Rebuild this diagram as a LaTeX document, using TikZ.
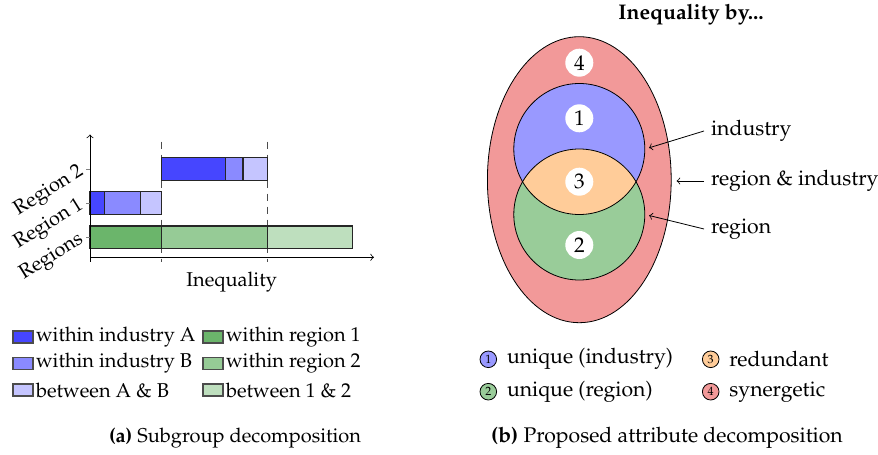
\documentclass[tikz,border=0pt]{standalone}
\usepackage[T1]{fontenc}
\usepackage{mathpazo}
\usetikzlibrary{shapes}
\usetikzlibrary{arrows}
\usetikzlibrary{calc,positioning}

\definecolor{indA}{HTML}{4646FF}
\definecolor{indB}{HTML}{8A8AFF}
\definecolor{betAB}{HTML}{C5C5FF}
\definecolor{regOne}{HTML}{6BB56B}
\definecolor{regTwo}{HTML}{96CB96}
\definecolor{betOneTwo}{HTML}{BEDFBE}
\definecolor{uniqInd}{HTML}{9999FF}
\definecolor{uniqReg}{HTML}{99CC99}
\definecolor{redund}{HTML}{FFCC99}
\definecolor{synerg}{HTML}{F29999}

\begin{document}
\begin{tikzpicture}[x=0.5pt, y=-0.5pt]
	\tikzstyle{bar}=[draw=black!85, line width=0.6pt]
	\tikzstyle{legbox}=[draw=black!70, line width=0.6pt, minimum width=10pt, minimum height=6pt, inner sep=0pt]
	\tikzstyle{legtext}=[inner xsep=1pt]
	\tikzstyle{venn}=[circle, minimum size=65.5pt, inner sep=0pt]
	\tikzstyle{num}=[circle, fill=white, minimum size=14pt, inner sep=0pt]
	\tikzstyle{legnum}=[circle, draw, minimum size=8.3pt, inner sep=0pt, font=\fontsize{6pt}{7pt}\selectfont]
	\tikzstyle{ylab}=[anchor=east, rotate=32, inner sep=1pt]
	\tikzstyle{guide}=[black!70, dash pattern=on 3.5pt off 3pt]

	\useasboundingbox (0,0) rectangle (878,455);

	% (a) subgroup decomposition
	\begin{scope}[font=\fontsize{10pt}{12pt}\selectfont]
	\coordinate (origin) at (90,257.3);
	\coordinate (ytop) at (90,134.5);
	\coordinate (xend) at (374,257.3);
	\draw[guide] (161.3,141.7) -- (161.3,261.7);
	\draw[guide] (267.7,141.7) -- (267.7,261.7);

	\draw[bar, fill=regOne] (90,226) rectangle (161.3,248.3);
	\draw[bar, fill=regTwo] (161.3,226) rectangle (267.7,248.3);
	\draw[bar, fill=betOneTwo] (267.7,226) rectangle (352.7,248.3);
	\draw[bar, fill=indA] (90,191.3) rectangle (104.7,214.3);
	\draw[bar, fill=indB] (104.7,191.3) rectangle (140.3,214.3);
	\draw[bar, fill=betAB] (140.3,191.3) rectangle (161.3,214.3);
	\draw[bar, fill=indA] (161.3,157.3) rectangle (225.7,180.3);
	\draw[bar, fill=indB] (225.7,157.3) rectangle (243,180.3);
	\draw[bar, fill=betAB] (243,157.3) rectangle (267.7,180.3);

	\draw[->] (90,261.7) -- (ytop);
	\draw[->] (origin) -- (xend);
	\foreach \ty/\tl in {169.3/Region 2, 203/Region 1, 237.3/Regions}
		\draw[black!50] (86,\ty) -- (90,\ty) node[ylab, black] at (84,\ty) {\tl};
	\node (xlab) at (231.7,281.7) {Inequality};

	% legend (a)
	\node[legbox, fill=indA] (bA) at (23,337) {};
	\node[legtext, right=0pt of bA] {within industry A};
	\node[legbox, fill=indB] (bB) at (23,363.5) {};
	\node[legtext, right=0pt of bB] {within industry B};
	\node[legbox, fill=betAB] (bAB) at (23,390) {};
	\node[legtext, right=0pt of bAB] {between A \& B};
	\node[legbox, fill=regOne] (b1) at (213,337) {};
	\node[legtext, right=0pt of b1] {within region 1};
	\node[legbox, fill=regTwo] (b2) at (213,363.5) {};
	\node[legtext, right=0pt of b2] {within region 2};
	\node[legbox, fill=betOneTwo] (b12) at (213,390) {};
	\node[legtext, right=0pt of b12] {between 1 \& 2};

	\node (capa) at (235,438) {\textbf{(a)} Subgroup decomposition};
	\end{scope}

	% (b) attribute decomposition
	\begin{scope}[font=\fontsize{10.6pt}{13pt}\selectfont]
	\node (title) at (691,15) {\textbf{Inequality by...}};
	\node[ellipse, draw, fill=synerg, minimum width=91.9pt, minimum height=143pt, inner sep=0pt] (syn) at (579.3,179.7) {};
	\node[venn, fill=uniqInd] (ind) at (579.3,149) {};
	\node[venn, fill=uniqReg] (reg) at (579.3,214.5) {};
	\begin{scope}
		\clip (ind.center) circle (32.75pt);
		\fill[redund] (reg.center) circle (32.75pt);
	\end{scope}
	\draw (ind.center) circle (32.75pt);
	\draw (reg.center) circle (32.75pt);
	\node[num] (n4) at (579.3,62.7) {4};
	\node[num] (n1) at (579.3,118.3) {1};
	\node[num] (n3) at (579.3,181.7) {3};
	\node[num] (n2) at (579.3,245) {2};

	\node[anchor=west] (lind) at (704,131) {industry};
	\node[anchor=west] (lboth) at (704,181) {region \& industry};
	\node[anchor=west] (lreg) at (704,229) {region};
	\draw[->, shorten >=2pt] (lind.west) -- (ind.east);
	\draw[->, shorten >=2.5pt] (lboth.west) -- (lboth.west -| syn.east);
	\draw[->, shorten >=2pt] (lreg.west) -- (reg.east);

	% legend (b)
	\node[legnum, fill=uniqInd] (k1) at (488.3,359.3) {1};
	\node[right=1.5pt of k1] {unique (industry)};
	\node[legnum, fill=uniqReg] (k2) at (488.3,391.7) {2};
	\node[right=1.5pt of k2] {unique (region)};
	\node[legnum, fill=redund] (k3) at (710.7,359.3) {3};
	\node[right=1.5pt of k3] {redundant};
	\node[legnum, fill=synerg] (k4) at (710.7,391.7) {4};
	\node[right=1.5pt of k4] {synergetic};

	\node (capb) at (667,438) {\textbf{(b)} Proposed attribute decomposition};
	\end{scope}
\end{tikzpicture}
\end{document}
